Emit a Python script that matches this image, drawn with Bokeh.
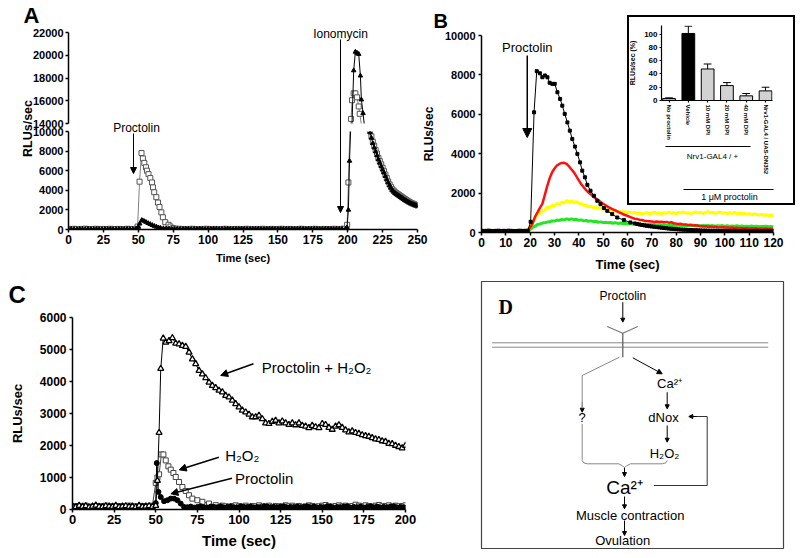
import math
from bokeh.plotting import figure
from bokeh.models import Range1d, GridBox, Arrow, NormalHead, FixedTicker
from bokeh.embed import file_html
from bokeh.resources import INLINE
from bokeh.core.properties import value

SANS = "Liberation Sans"
SERIF = "Liberation Serif"

# ------------------------------------------------------------------ data A
A_x_ticks = [0, 25, 50, 75, 100, 125, 150, 175, 200, 225, 250]
A_top_ticks = [14000, 16000, 18000, 20000, 22000]
A_bot_ticks = [0, 2000, 4000, 6000, 8000, 10000]

A_sq_t = (list(range(0, 50, 2))
          + [49.5, 50.9, 52.3, 53.3, 54.3, 55.5, 56.2, 57.3, 58.6, 59.8, 60.5, 61.4, 62.9,
             64.1, 65.2, 66.5, 67.6, 69.3, 71.7, 73.0, 75.0, 77.0]
          + list(range(79, 199, 2))
          + [199.6, 200.5, 202.4, 203.1, 204.3, 205.5, 206.7, 207.9, 208.6, 210.5, 212.5, 214.5]
          + list(range(216, 251)))
A_sq_v = ([60, 40, 70, 50, 30, 60, 80, 50, 40, 60, 70, 50, 40, 60, 50, 70, 40, 50, 60, 30, 50, 70, 60, 40, 60]
          + [300, 4880, 7800, 7250, 6800, 6350, 6000, 5650, 5250, 4800, 4300, 3800, 3300, 2750, 2300,
             1750, 1250, 750, 480, 300, 150, 80]
          + [70, 60, 50, 40, 60, 70, 50, 40, 50, 60, 70, 50, 40, 60, 50, 40, 60, 70, 50, 40,
             50, 60, 40, 50, 70, 60, 50, 40, 60, 50, 70, 40, 50, 60, 50, 40, 60, 70, 50, 40,
             60, 50, 40, 60, 70, 50, 40, 50, 60, 70, 50, 40, 60, 50, 40, 60, 70, 50, 60, 80]
          + [480, 4800, 14400, 16050, 16650, 16650, 16300, 15500, 14850, 13400, 12300, 11200]
          + [10100, 9500, 8950, 8550, 8100, 7750, 7300, 6980, 6650, 6300, 5950, 5600, 5250, 4900,
             4600, 4350, 4100, 3950, 3800, 3700, 3600, 3500, 3400, 3300, 3200, 3100, 3000, 2920,
             2830, 2750, 2680, 2620, 2560, 2500, 2450])

A_tri_t = (list(range(0, 50, 2))
           + [49, 50, 51, 52.5, 54, 55.5, 57, 58.5, 60, 61.5, 63, 64.5, 66, 68, 70, 72]
           + list(range(74, 198, 2))
           + [198.5, 199.5, 200.5, 201.3, 204.3, 205.5, 206.7, 207.9, 209.1, 209.8, 211.0, 212.5, 214.0, 215.5]
           + list(range(216, 251)))
A_tri_v = ([30, 50, 40, 20, 50, 40, 30, 60, 40, 30, 50, 40, 30, 50, 40, 60, 30, 40, 50, 30, 40, 60, 50, 30, 40]
           + [100, 250, 600, 950, 870, 760, 640, 540, 440, 350, 270, 200, 150, 110, 90, 80]
           + [60, 40, 50, 30, 40, 60, 50, 30, 40, 50, 60, 40, 30, 50, 40, 60, 50, 30, 40, 50,
              60, 40, 30, 50, 40, 60, 50, 40, 30, 50, 40, 60, 50, 30, 40, 50, 60, 40, 30, 50,
              40, 60, 50, 30, 40, 50, 60, 40, 30, 50, 40, 60, 50, 30, 40, 50, 60, 40, 30, 50, 40, 60]
           + [60, 200, 2000, 7000, 18660, 20300, 20200, 20100, 18200, 16100, 14900, 13200, 12000, 10800]
           + [9900, 9350, 8800, 8350, 7950, 7550, 7150, 6800, 6450, 6100, 5800, 5450, 5100, 4800,
              4500, 4250, 4000, 3850, 3700, 3600, 3500, 3400, 3300, 3200, 3100, 3000, 2920, 2840,
              2760, 2680, 2620, 2560, 2500, 2450, 2400])

# ------------------------------------------------------------------ data B
B_x_ticks = [0, 10, 20, 30, 40, 50, 60, 70, 80, 90, 100, 110, 120]
B_y_ticks = [0, 2000, 4000, 6000, 8000, 10000]

B_black_t = (list(range(0, 20))
             + [20.2, 21.6, 22.7, 24.0, 25.0, 26.1, 27.1, 28.0, 29.1, 30.1, 31.2, 32.3, 33.2, 34.2,
                35.3, 36.3, 37.3, 38.4, 39.4, 40.5, 41.4, 42.5, 43.5, 44.8, 46.2, 47.6, 48.9, 50.3,
                51.7, 53.7, 55.8, 58.5, 61.2]
             + list(range(63, 121)))
B_black_v = ([90, 80, 85, 95, 80, 75, 85, 90, 80, 85, 80, 90, 85, 80, 75, 85, 90, 80, 85, 90]
             + [544, 6100, 8190, 8080, 7880, 7970, 7880, 7600, 7545, 7545, 7120, 6780, 6440, 6020,
                5590, 5170, 4750, 4360, 3990, 3560, 3140, 2800, 2420, 2120, 1865, 1610, 1440, 1240,
                1100, 935, 760, 630, 510]
             + [460, 430, 400, 380, 360, 340, 320, 305, 290, 275, 260, 245, 230, 215, 200, 190, 180,
                170, 160, 150, 145, 140, 130, 125, 120, 115, 110, 105, 100, 100, 95, 95, 90, 90, 90,
                85, 85, 85, 85, 80, 80, 85, 80, 75, 80, 85, 80, 75, 80, 80, 85, 80, 75, 80, 80, 85,
                80, 75])

B_t = list(range(0, 121))
B_red_v = ([90, 95, 85, 90, 100, 90, 85, 95, 90, 85, 90, 95, 90, 85, 90, 100, 90, 85, 95, 100]
           + [250, 450, 800, 1020, 1250, 1450, 1900, 2350, 2750, 3050, 3250, 3400, 3480, 3530, 3540,
              3480, 3350, 3200, 3050, 2850, 2650, 2450, 2300, 2150, 2030, 1930, 1820, 1730, 1640,
              1550, 1460, 1380, 1300, 1240, 1180, 1120, 1060, 1000, 940, 890, 840, 790, 740, 700,
              680, 650, 630, 600, 580, 570, 560]
           + [540, 560, 530, 550, 520, 540, 500, 520, 470, 450, 430, 440, 400, 410, 380, 390, 360,
              370, 340, 330, 310, 320, 290, 300, 280, 290, 270, 260, 270, 250, 260, 240, 250, 230,
              240, 220, 230, 210, 230, 200, 220, 200, 210, 190, 200, 190, 200, 180, 190, 180])
B_yellow_v = ([100, 110, 95, 105, 100, 110, 95, 100, 105, 95, 110, 100, 95, 105, 100, 110, 95, 100, 105, 110]
              + [300, 520, 700, 900, 980, 1100, 1120, 1280, 1260, 1380, 1350, 1470, 1430, 1540, 1500,
                 1620, 1560, 1610, 1520, 1570, 1480, 1470, 1380, 1400, 1310, 1330, 1260, 1290, 1220,
                 1250, 1180, 1200, 1130, 1150, 1080, 1110, 1040, 1080, 1020, 1060, 1000]
              + [1040, 980, 1020, 960, 1000, 940, 980, 1010, 950, 990, 1030, 970, 1000, 950, 1010,
                 980, 1040, 970, 1000, 960, 1020, 990, 1040, 980, 1010, 960, 1000, 1050, 990, 1020,
                 970, 1010, 1060, 990, 1030, 970, 1000, 1040, 980, 1010, 960, 1000, 970, 1020, 950,
                 990, 940, 980, 930, 960, 900, 950, 910, 880, 920, 870, 900, 860, 890, 850])
B_green_v = ([60, 70, 55, 65, 60, 70, 55, 60, 65, 55, 70, 60, 55, 65, 60, 70, 55, 60, 65, 70]
             + [150, 260, 320, 410, 430, 480, 490, 530, 540, 590, 580, 630, 610, 660, 640, 690, 660,
                690, 650, 670, 620, 640, 590, 610, 570, 590, 550, 570, 520, 540, 500, 520, 490, 510,
                470, 500, 460, 480, 450, 470, 440]
             + [460, 430, 450, 420, 440, 410, 430, 400, 420, 390, 410, 380, 400, 370, 390, 360, 380,
                350, 370, 360, 380, 350, 370, 340, 360, 350, 370, 340, 360, 330, 350, 340, 360, 330,
                350, 320, 340, 330, 350, 320, 340, 310, 330, 320, 340, 310, 330, 300, 320, 310, 330,
                300, 320, 290, 310, 300, 320, 290, 300, 280])

# inset of B
IN_pos = [1, 2, 3, 4, 5, 6]
IN_labels = ["No proctolin", "Vehicle", "10 mM DPI", "20 mM DPI", "40 mM DPI", "Nrv1-GAL4 / UAS-DN352"]
IN_vals = [3, 101, 47.5, 22.5, 7, 14.5]
IN_err = [1, 11, 7.5, 4.5, 3.5, 5.5]
IN_colors = ["#b0b0b0", "#000000", "#d2d2d2", "#d2d2d2", "#d2d2d2", "#d2d2d2"]
IN_y_ticks = [0, 20, 40, 60, 80, 100]

# ------------------------------------------------------------------ data C
C_x_ticks = [0, 25, 50, 75, 100, 125, 150, 175, 200]
C_y_ticks = [0, 1000, 2000, 3000, 4000, 5000, 6000]

C_tri_t = list(range(0, 50, 2)) + [50, 51, 52, 53, 54.5] + list(range(56, 201, 2))
C_tri_v = ([100, 80, 120, 90, 110, 70, 100, 130, 90, 80, 110, 100, 90, 120, 80, 100, 110, 90, 100, 80,
            120, 90, 100, 110, 90]
           + [120, 900, 2400, 4400, 5350]
           + [5220, 5270, 5360, 5190, 5170, 5120, 5090, 4910, 4700, 4550,
              4340, 4230, 4110, 3970, 3870, 3800, 3720, 3670, 3560, 3510,
              3410, 3300, 3200, 3100, 3040, 2970, 2890, 2890, 2940, 2830,
              2700, 2680, 2750, 2780, 2700, 2760, 2700, 2650, 2700, 2640,
              2700, 2620, 2600, 2550, 2620, 2580, 2550, 2680, 2650, 2560,
              2500, 2600, 2640, 2560, 2480, 2420, 2450, 2400, 2370, 2330,
              2300, 2280, 2240, 2200, 2180, 2140, 2120, 2060, 2050, 2000,
              1960, 1920, 2000])

C_sq_t = (list(range(0, 50, 2))
          + [50, 51, 52, 53.4, 54.6, 56, 57.6, 59, 60.6, 62, 64, 66, 68, 70, 72, 75, 78, 82, 86]
          + list(range(90, 201, 2)))
C_sq_v = ([90, 110, 80, 100, 120, 90, 80, 110, 100, 90, 120, 80, 100, 90, 110, 80, 100, 120, 90, 100,
           80, 110, 90, 100, 120]
          + [830, 1000, 1100, 1720, 1720, 1535, 1350, 1245, 1140, 1015, 860, 705, 580, 445, 340, 290,
             240, 185, 135]
          + [120, 100, 90, 110, 130, 100, 90, 120, 80, 110, 100, 130, 90, 100, 120, 80, 110, 100, 90, 130,
             100, 120, 90, 110, 80, 100, 130, 110, 90, 100, 120, 140, 100, 90, 110, 130, 100, 120, 90, 110,
             150, 120, 100, 130, 110, 90, 120, 140, 100, 110, 130, 90, 120, 100, 110, 130])

C_ci_t = list(range(0, 50, 2)) + [50, 50.6, 51.6, 53, 55, 57, 59, 61, 63, 65, 67] + list(range(69, 200, 2))
C_ci_v = ([70, 90, 60, 80, 100, 70, 90, 80, 60, 100, 80, 70, 90, 60, 80, 100, 70, 90, 80, 60,
           90, 80, 70, 100, 80]
          + [200, 1450, 550, 390, 260, 290, 340, 340, 290, 185, 80]
          + [70, 90, 60, 80, 100, 70, 60, 90, 80, 70, 100, 60, 80, 90, 70, 60, 100, 80, 70, 90,
             60, 80, 70, 100, 90, 60, 80, 70, 90, 100, 60, 80, 70, 90, 60, 80, 100, 70, 90, 60,
             80, 70, 100, 90, 60, 80, 70, 90, 100, 60, 80, 70, 90, 60, 80, 100, 70, 90, 60, 80,
             70, 90, 100, 60, 80, 70])

for a, b in [(A_sq_t, A_sq_v), (A_tri_t, A_tri_v), (B_black_t, B_black_v), (B_t, B_red_v),
             (B_t, B_yellow_v), (B_t, B_green_v), (C_tri_t, C_tri_v), (C_sq_t, C_sq_v), (C_ci_t, C_ci_v)]:
    assert len(a) == len(b), (len(a), len(b))


# ------------------------------------------------------------------ helpers
def fig(xr, yr, fw, fh, ml, mr, mt, mb, xaxis=True, yaxis=True):
    p = figure(x_range=xr, y_range=yr, width=ml + fw + mr, height=mt + fh + mb,
               min_border_left=ml, min_border_right=mr, min_border_top=mt, min_border_bottom=mb,
               x_axis_location="below" if xaxis else None,
               y_axis_location="left" if yaxis else None,
               output_backend="svg", toolbar_location=None)
    p.background_fill_color = None
    p.border_fill_color = None
    p.outline_line_color = None
    p.xgrid.visible = False
    p.ygrid.visible = False
    return p


def plain(xr, yr, w, h, ml=0, mr=0, mt=0, mb=0):
    p = figure(x_range=xr, y_range=yr, width=w, height=h,
               min_border_left=ml, min_border_right=mr, min_border_top=mt, min_border_bottom=mb,
               x_axis_location=None, y_axis_location=None,
               output_backend="svg", toolbar_location=None)
    p.background_fill_color = None
    p.border_fill_color = None
    p.outline_line_color = None
    p.xgrid.visible = False
    p.ygrid.visible = False
    for g in p.grid:
        g.grid_line_color = None
    return p


def style_axis(ax, tick_px, label_px=None, tick_standoff=2, label_standoff=4, lw=1.5, tick_out=3):
    ax.axis_line_width = lw
    ax.axis_line_color = "black"
    ax.major_tick_line_width = lw
    ax.major_tick_line_color = "black"
    ax.major_tick_out = tick_out
    ax.major_tick_in = 0
    ax.minor_tick_line_color = None
    ax.major_label_text_font = SANS
    ax.major_label_text_font_size = f"{tick_px}px"
    ax.major_label_text_font_style = "bold"
    ax.major_label_text_color = "black"
    ax.major_label_standoff = tick_standoff
    ax.axis_label_text_font = SANS
    ax.axis_label_text_font_style = "bold"
    ax.axis_label_text_color = "black"
    if label_px:
        ax.axis_label_text_font_size = f"{label_px}px"
    ax.axis_label_standoff = label_standoff


def txt(p, x, y, s, size, font=SANS, style="normal", align="center", baseline="middle", angle=0.0,
        color="black"):
    p.text(x=[x], y=[y], text=[s], text_font=value(font), text_font_size=f"{size}px",
           text_font_style=style, text_align=align, text_baseline=baseline, angle=angle,
           text_color=color)


def arr(p, x0, y0, x1, y1, size=6, color="black", width=1.0, head_color="black"):
    p.add_layout(Arrow(end=NormalHead(size=size, fill_color=head_color, line_color=head_color, line_width=1),
                       x_start=x0, y_start=y0, x_end=x1, y_end=y1, line_color=color, line_width=width))


# ------------------------------------------------------------------ panel A (broken axis)
pAT = fig(Range1d(0, 250), Range1d(14000, 22000), 349, 91, 60, 12, 10, 9, xaxis=False)
pAT.yaxis.ticker = FixedTicker(ticks=A_top_ticks)
style_axis(pAT.yaxis[0], 11)

pAB = fig(Range1d(0, 250), Range1d(0, 10000), 349, 98, 61, 14, 10, 40)
pAB.yaxis.ticker = FixedTicker(ticks=A_bot_ticks)
pAB.xaxis.ticker = FixedTicker(ticks=A_x_ticks)
pAB.xaxis.axis_label = "Time (sec)"
style_axis(pAB.yaxis[0], 11)
style_axis(pAB.xaxis[0], 12, 11, tick_standoff=2, label_standoff=5)

for p in (pAT, pAB):
    p.line(A_sq_t, A_sq_v, line_color="#808080", line_width=1)
    p.scatter(A_sq_t, A_sq_v, marker="square", size=5, fill_color="white", line_color="#555555",
              line_width=1)
    p.line(A_tri_t, A_tri_v, line_color="black", line_width=1)
    p.scatter(A_tri_t, A_tri_v, marker="triangle", size=4.5, fill_color="black", line_color="black")

# ------------------------------------------------------------------ panel B
pB = fig(Range1d(0, 120), Range1d(0, 10000), 292, 197, 66, 15, 10, 45)
pB.xaxis.ticker = FixedTicker(ticks=B_x_ticks)
pB.yaxis.ticker = FixedTicker(ticks=B_y_ticks)
pB.xaxis.axis_label = "Time (sec)"
pB.yaxis.axis_label = "RLUs/sec"
style_axis(pB.xaxis[0], 12, 13, tick_standoff=2, label_standoff=7)
style_axis(pB.yaxis[0], 11, 12, tick_standoff=3, label_standoff=6)
pB.line(B_t, B_green_v, line_color="#22e622", line_width=3)
pB.line(B_t, B_yellow_v, line_color="#ffff00", line_width=3)
pB.line(B_t, B_red_v, line_color="#ff1010", line_width=2.5)
pB.line(B_black_t, B_black_v, line_color="black", line_width=1)
pB.scatter(B_black_t, B_black_v, marker="square", size=3, color="black")
txt(pB, 18.8, 9406, "Proctolin", 13)
arr(pB, 18.8, 8985, 18.8, 4822, size=9, width=1.5)

# box of inset (page coordinates)
pBX = plain(Range1d(627, 795), Range1d(205, 15), 168, 190)
pBX.background_fill_color = "white"
pBX.border_fill_color = "white"
pBX.outline_line_color = "black"
pBX.outline_line_width = 3
pBX.line([665, 750], [146, 146], line_color="black", line_width=1)
pBX.line([683, 773], [189, 189], line_color="black", line_width=1)
txt(pBX, 712, 155.5, "Nrv1-GAL4 / +", 8)
txt(pBX, 729, 196, "1 \u03bcM proctolin", 9)

# inset bars
pIN = fig(Range1d(0.61, 6.36), Range1d(0, 113), 111, 75, 35, 12, 5, 85)
pIN.yaxis.ticker = FixedTicker(ticks=IN_y_ticks)
pIN.xaxis.ticker = FixedTicker(ticks=IN_pos)
pIN.xaxis.major_label_overrides = {k: v for k, v in zip(IN_pos, IN_labels)}
pIN.xaxis.major_label_orientation = "vertical"
pIN.yaxis.axis_label = "RLUs/sec (%)"
style_axis(pIN.yaxis[0], 8, 7, tick_standoff=2, label_standoff=5, lw=1.2, tick_out=2)
style_axis(pIN.xaxis[0], 6, tick_standoff=2, lw=1.2, tick_out=2)
pIN.vbar(x=IN_pos, top=IN_vals, width=0.66, fill_color=IN_colors, line_color="black", line_width=1)
err_top = [v + e for v, e in zip(IN_vals, IN_err)]
pIN.segment(x0=IN_pos, y0=IN_vals, x1=IN_pos, y1=err_top, line_color="black", line_width=1)
pIN.segment(x0=[x - 0.2 for x in IN_pos], y0=err_top, x1=[x + 0.2 for x in IN_pos], y1=err_top,
            line_color="black", line_width=1)

# ------------------------------------------------------------------ panel C
pC = fig(Range1d(0, 200), Range1d(0, 6000), 336, 192, 63, 15, 12, 45)
pC.xaxis.ticker = FixedTicker(ticks=C_x_ticks)
pC.yaxis.ticker = FixedTicker(ticks=C_y_ticks)
pC.xaxis.axis_label = "Time (sec)"
pC.yaxis.axis_label = "RLUs/sec"
style_axis(pC.xaxis[0], 13, 15, tick_standoff=2, label_standoff=5)
style_axis(pC.yaxis[0], 12, 13, tick_standoff=3, label_standoff=12)
pC.line(C_sq_t, C_sq_v, line_color="#444444", line_width=1)
pC.scatter(C_sq_t, C_sq_v, marker="square", size=5, fill_color="white", line_color="#444444", line_width=1)
pC.line(C_ci_t, C_ci_v, line_color="black", line_width=1)
pC.scatter(C_ci_t, C_ci_v, marker="circle", size=5, fill_color="black", line_color="black")
pC.line(C_tri_t, C_tri_v, line_color="black", line_width=1)
pC.scatter(C_tri_t, C_tri_v, marker="triangle", size=6, fill_color="white", line_color="black",
           line_width=1.3)
txt(pC, 113.7, 4447, "Proctolin + H\u2082O\u2082", 15, align="left")
arr(pC, 108.7, 4553, 89.0, 4188, size=7, width=1.5)
txt(pC, 91.7, 1690, "H\u2082O\u2082", 15, align="left")
arr(pC, 87.9, 1634, 64.1, 1241, size=7, width=1.5)
txt(pC, 97.6, 978, "Proctolin", 15, align="left")
arr(pC, 95.8, 978, 59.1, 491, size=7, width=1.5)

# ------------------------------------------------------------------ panel D (diagram)
pD = plain(Range1d(0, 302), Range1d(267, 0), 306, 272, ml=2, mr=2, mt=2, mb=3)
pD.background_fill_color = "white"
pD.outline_line_color = "#444444"
pD.outline_line_width = 1.2

D_labels = ["Proctolin", "Ca\u00b2\u207a", "?", "dNox", "H\u2082O\u2082", "Ca\u00b2\u207a",
            "Muscle contraction", "Ovulation"]
D_lx = [141.3, 188.0, 100.7, 182.0, 183.0, 143.0, 148.7, 141.2]
D_ly = [14.0, 102.3, 135.7, 135.7, 172.3, 205.7, 234.0, 259.0]
D_ls = [12, 13, 13, 13, 13, 19, 13, 13]
for s, x, y, sz in zip(D_labels, D_lx, D_ly, D_ls):
    txt(pD, x, y, s, sz)
txt(pD, 17, 25.5, "D", 20, font=SERIF, style="bold", align="left")

# membrane and receptor
pD.line([10.7, 286.7], [61.3, 61.3], line_color="#888888", line_width=1)
pD.line([10.7, 286.7], [65.7, 65.7], line_color="#888888", line_width=1)
pD.line([125.7, 141.3, 156.3], [45.0, 51.7, 45.0], line_color="#777777", line_width=1.2)
pD.line([141.3, 141.3], [51.7, 75.7], line_color="#555555", line_width=1.2)
# left branch
pD.line([138.0, 100.7, 100.7], [75.7, 94.0, 126.0], line_color="#888888", line_width=1)
arr(pD, 100.7, 120.0, 100.7, 130.7, size=4, color="#888888")
# braces
pD.line([100.7, 100.7, 102.5, 105.7, 137.3, 141.0, 143.0],
        [142.3, 179.0, 181.5, 182.3, 182.3, 184.3, 186.3], line_color="#888888", line_width=1)
pD.line([185.7, 184.5, 180.7, 149.0, 145.0, 143.0],
        [179.0, 181.3, 182.3, 182.3, 184.3, 186.3], line_color="#888888", line_width=1)
# feedback loop
pD.line([172.3, 225.7, 225.7, 212.0], [204.0, 204.0, 135.0, 135.0], line_color="#333333", line_width=1)
arr(pD, 215.0, 135.0, 207.3, 135.0, size=4)
# arrows
arr(pD, 141.3, 20.7, 141.3, 40.7, size=4)
arr(pD, 151.3, 76.3, 180.7, 92.3, size=5)
arr(pD, 185.7, 110.7, 185.7, 127.3, size=4)
arr(pD, 185.7, 144.0, 185.7, 160.7, size=4)
arr(pD, 143.0, 186.3, 143.0, 195.0, size=4)
arr(pD, 143.0, 215.0, 143.0, 227.3, size=4)
arr(pD, 143.0, 239.0, 143.0, 254.0, size=4)

# ------------------------------------------------------------------ free labels (page coordinates)
pBG = plain(Range1d(0, 800), Range1d(558, 0), 800, 558)
txt(pBG, 23, 15, "A", 22, style="bold", align="left")
txt(pBG, 433, 20, "B", 20, style="bold", align="left")
txt(pBG, 8, 294, "C", 24, style="bold", align="left")
txt(pBG, 27, 128, "RLUs/sec", 12.5, style="bold", angle=math.pi / 2)
txt(pBG, 136, 127, "Proctolin", 12)
arr(pBG, 133, 133, 133, 173, size=6)
txt(pBG, 340, 33, "Ionomycin", 12)
arr(pBG, 340, 39, 340, 212, size=6)

# ------------------------------------------------------------------ layout (1px CSS grid, page coords)
H, W = 558, 800


def at(p, page_x, page_y):
    h = min(p.height, H - page_y)
    w = min(p.width, W - page_x)
    return (p, page_y, page_x, h, w)


# every child starts/ends on its own grid lines so that no frame alignment is applied
children = [
    at(pAT, 8, 22),
    at(pAB, 7, 121),
    at(pB, 415, 25),
    at(pBX, 627, 15),
    at(pIN, 626, 20),
    at(pC, 6, 305),
    at(pD, 479, 279),
    at(pBG, 0, 0),
]
grid = GridBox(children=children, rows=["1px"] * H, cols=["1px"] * W, spacing=0)

open("out.html", "w").write(file_html(grid, INLINE))
